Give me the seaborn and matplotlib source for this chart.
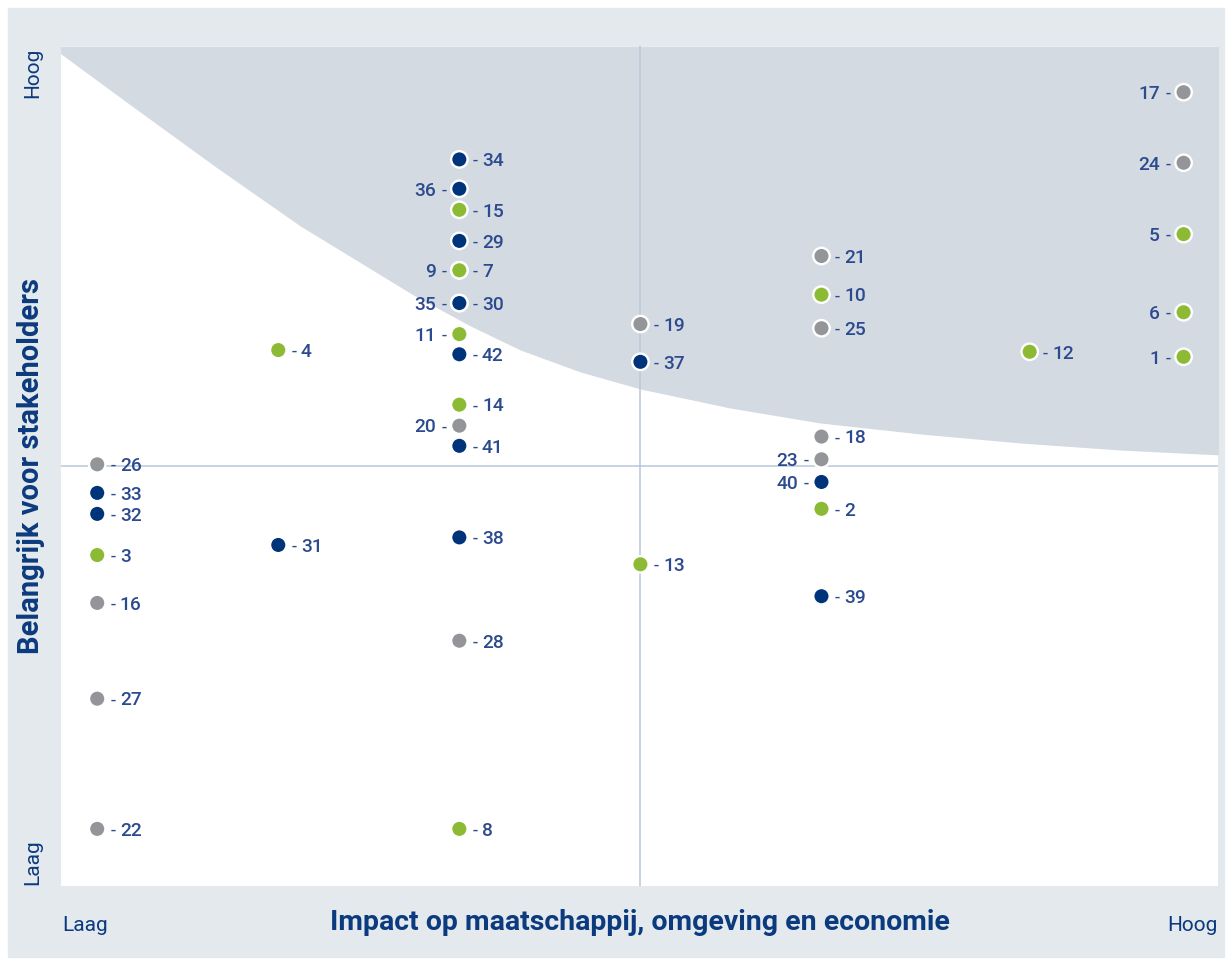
import numpy as np
import pandas as pd
import matplotlib
matplotlib.use('Agg')
import matplotlib.pyplot as plt
import seaborn as sns
from matplotlib.patches import Rectangle

# materiality items: label, impact column, stakeholder importance, colour group, label side
labels = ['17', '24', '5', '6', '1',
          '12',
          '21', '10', '25', '18', '23', '40', '2', '39',
          '19', '37', '13',
          '34', '36', '15', '29', '9', '7', '35', '30', '11', '42', '14', '20', '41', '38', '28', '8',
          '4', '31',
          '26', '33', '32', '3', '16', '27', '22']
impact = [7.0, 7.0, 7.0, 7.0, 7.0,
          6.15,
          5, 5, 5, 5, 5, 5, 5, 5,
          4, 4, 4,
          3, 3, 3, 3, 3, 3, 3, 3, 3, 3, 3, 3, 3, 3, 3, 3,
          2, 2,
          1, 1, 1, 1, 1, 1, 1]
importance = [9.45, 8.61, 7.76, 6.83, 6.30,
              6.36,
              7.50, 7.04, 6.64, 5.35, 5.08, 4.81, 4.49, 3.45,
              6.69, 6.24, 3.83,
              8.65, 8.30, 8.05, 7.68, 7.33, 7.33, 6.94, 6.94, 6.57, 6.33, 5.73, 5.48, 5.24, 4.15, 2.92, 0.68,
              6.38, 4.06,
              5.02, 4.68, 4.43, 3.94, 3.37, 2.23, 0.68]
group = ['grey', 'grey', 'green', 'green', 'green',
         'green',
         'grey', 'green', 'grey', 'grey', 'grey', 'navy', 'green', 'navy',
         'grey', 'navy', 'green',
         'navy', 'navy', 'green', 'navy', 'green', 'green', 'navy', 'navy', 'green', 'navy', 'green', 'grey', 'navy', 'navy', 'grey', 'green',
         'green', 'navy',
         'grey', 'navy', 'navy', 'green', 'grey', 'grey', 'grey']
side = ['l', 'l', 'l', 'l', 'l',
        'r',
        'r', 'r', 'r', 'r', 'l', 'l', 'r', 'r',
        'r', 'r', 'r',
        'r', 'l', 'r', 'r', 'l', 'r', 'l', 'r', 'l', 'r', 'r', 'l', 'r', 'r', 'r', 'r',
        'r', 'r',
        'r', 'r', 'r', 'r', 'r', 'r', 'r']

# boundary of the shaded (material) zone
curve_x = [0.740, 1.199, 1.663, 2.122, 2.746, 3.061, 3.337, 3.669, 4.000, 4.497, 4.994, 5.547, 6.099, 6.652, 7.204]
curve_y = [10.0, 9.274, 8.548, 7.857, 7.036, 6.667, 6.381, 6.119, 5.917, 5.690, 5.512, 5.381, 5.274, 5.190, 5.131]

palette = {'navy': '#00347a', 'green': '#8cba34', 'grey': '#939598'}
label_color = '#2c4a8e'
axis_color = '#0b3a7e'

df = pd.DataFrame({'label': labels, 'impact': impact, 'importance': importance,
                   'group': group, 'side': side})

plt.rcParams['font.family'] = ['Roboto', 'DejaVu Sans']

W, H = 1231, 963
fig = plt.figure(figsize=(W / 100, H / 100), dpi=100, facecolor='white')
fig.patches.append(Rectangle((8 / W, 6 / H), (1224 - 8) / W, (957 - 8) / H,
                             transform=fig.transFigure, color='#e4e9ed', zorder=-10))

ax = fig.add_axes([61 / W, 77 / H, 1157 / W, 840 / H])
ax.set_zorder(1)
ax.set_facecolor('white')
ax.set_xlim(0.8, 7.19)
ax.set_ylim(0, 10)

ax.fill_between(curve_x, curve_y, 10, color='#d3dae2', lw=0, zorder=1)
ax.axvline(4, color='#b8c8da', lw=1.1, zorder=2)
ax.axhline(5, color='#b8c8da', lw=1.1, zorder=2)

sns.scatterplot(data=df, x='impact', y='importance', hue='group', palette=palette,
                s=140, edgecolor='white', linewidth=1.7, legend=False, ax=ax, zorder=3)

for _, r in df.iterrows():
    if r.side == 'r':
        ax.annotate('-', (r.impact, r.importance), xytext=(9.4, -4.8), textcoords='offset points',
                    ha='left', va='baseline', fontsize=13, color=label_color)
        ax.annotate(r.label, (r.impact, r.importance), xytext=(16.3, -4.9), textcoords='offset points',
                    ha='left', va='baseline', fontsize=13.8, fontweight='medium', color=label_color)
    else:
        ax.annotate('-', (r.impact, r.importance), xytext=(-9.4, -4.8), textcoords='offset points',
                    ha='right', va='baseline', fontsize=13, color=label_color)
        ax.annotate(r.label, (r.impact, r.importance), xytext=(-17.0, -4.9), textcoords='offset points',
                    ha='right', va='baseline', fontsize=13.8, fontweight='medium', color=label_color)

ax.set_xticks([])
ax.set_yticks([])
for s in ax.spines.values():
    s.set_visible(False)
ax.set_xlabel('')
ax.set_ylabel('')

# axis titles and end labels
fig.text(640 / W, 1 - 922 / H, 'Impact op maatschappij, omgeving en economie', ha='center', va='center',
         fontsize=20.5, fontweight='bold', color=axis_color)
fig.text(31 / W, 1 - 466 / H, 'Belangrijk voor stakeholders', ha='center', va='center', rotation=90,
         fontsize=21, fontweight='bold', color=axis_color)
fig.text(62 / W, 1 - 931 / H, 'Laag', ha='left', va='baseline', fontsize=15, color=axis_color)
fig.text(1218 / W, 1 - 931 / H, 'Hoog', ha='right', va='baseline', fontsize=15, color=axis_color)
fig.text(33 / W, 1 - 48 / H, 'Hoog', ha='center', va='top', rotation=90, fontsize=15, color=axis_color)
fig.text(33 / W, 1 - 885 / H, 'Laag', ha='center', va='bottom', rotation=90, fontsize=15, color=axis_color)

fig.savefig('out.png', dpi=100)
